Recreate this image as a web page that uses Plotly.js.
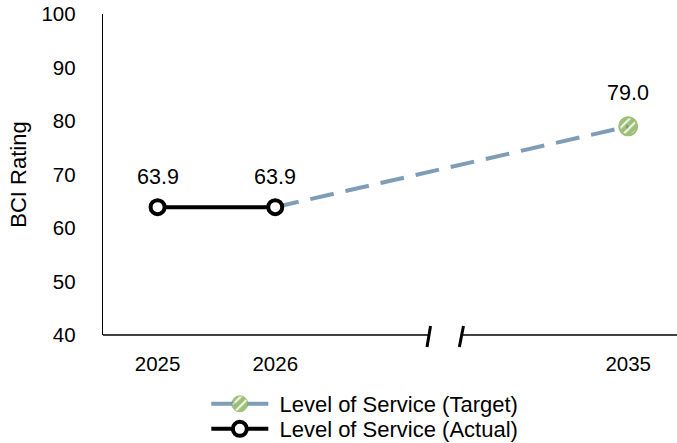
<!DOCTYPE html>
<html>
<head>
<meta charset="utf-8">
<script src="https://cdn.plot.ly/plotly-3.0.1.min.js"></script>
<style>
  html, body { margin: 0; padding: 0; background: #fff; }
  #chart { width: 677px; height: 443px; }
</style>
</head>
<body>
<div id="chart"></div>
<script>
// Category slots along the x axis (two empty slots stand for the axis break)
const slots = ['2025', '2026', 'gap-a', 'gap-b', '2035'];
const slotLabels = ['2025', '2026', '', '', '2035'];

// Level of Service (Actual)
const actualYears = ['2025', '2026'];
const actualBCI = [63.9, 63.9];

// Level of Service (Target)
const targetYears = ['2026', '2035'];
const targetBCI = [63.9, 79.0];

const FONT = 'Liberation Sans, Arial, sans-serif';
const xRange = [-0.464, 4.415];
const breakLeft = 2.305, breakRight = 2.585;
const NBSP = '\u00a0';

const targetTrace = {
  name: NBSP + 'Level of Service (Target)',
  legend: 'legend',
  x: targetYears,
  y: targetBCI,
  type: 'scatter',
  mode: 'lines+markers',
  line: { color: '#7f9db6', width: 4, dash: '24px,12px' },
  marker: {
    symbol: 'circle',
    size: [14, 18],
    color: '#74a542',
    line: { color: '#74a542', width: [0, 2] }
  },
  hoverinfo: 'skip'
};

const actualTrace = {
  name: NBSP + 'Level of Service (Actual)',
  legend: 'legend2',
  x: actualYears,
  y: actualBCI,
  type: 'scatter',
  mode: 'lines+markers',
  line: { color: '#000', width: 4 },
  marker: { symbol: 'circle', size: 14, color: '#fff', line: { color: '#000', width: 4 } },
  hoverinfo: 'skip'
};

// value labels above the markers (positioned by category index)
const labelFont = { family: FONT, size: 21.5, color: '#000' };
const valueLabel = (yr, v, shift) => ({
  x: slots.indexOf(yr), y: v, xref: 'x', yref: 'y',
  text: v.toFixed(1), showarrow: false, yshift: shift, font: labelFont
});
const annotations = actualYears.map((yr, i) => valueLabel(yr, actualBCI[i], 30))
  .concat([valueLabel(targetYears[targetYears.length - 1], targetBCI[targetBCI.length - 1], 33)]);

const axisLine = { color: '#000', width: 1.3 };
const slashLine = { color: '#000', width: 3 };

const legendBase = {
  orientation: 'v',
  x: 0.18, xanchor: 'left',
  yanchor: 'middle',
  itemwidth: 57,
  font: { family: FONT, size: 22, color: '#000' },
  bgcolor: 'rgba(0,0,0,0)'
};

const layout = {
  width: 677,
  height: 443,
  margin: { l: 103, r: 0, t: 14, b: 108, autoexpand: false },
  paper_bgcolor: '#fff',
  plot_bgcolor: '#fff',
  font: { family: FONT, size: 20.5, color: '#000' },
  showlegend: true,
  legend: Object.assign({}, legendBase, { y: -0.215 }),
  legend2: Object.assign({}, legendBase, { y: -0.293 }),
  annotations: annotations,
  xaxis: {
    type: 'category',
    categoryorder: 'array',
    categoryarray: slots,
    tickmode: 'array',
    tickvals: [0, 1, 2, 3, 4],
    ticktext: slotLabels,
    range: xRange,
    showline: false,
    showgrid: false,
    zeroline: false,
    ticks: '',
    ticklabelstandoff: 14,
    tickfont: { family: FONT, size: 20.5, color: '#000' },
    fixedrange: true
  },
  yaxis: {
    range: [40, 100],
    tickmode: 'linear',
    tick0: 40,
    dtick: 10,
    showline: true,
    linecolor: '#000',
    linewidth: 1.3,
    showgrid: false,
    zeroline: false,
    ticks: '',
    ticklabelstandoff: 22,
    tickfont: { family: FONT, size: 20.5, color: '#000' },
    title: { text: 'BCI Rating', font: { family: FONT, size: 22, color: '#000' }, standoff: 8 },
    fixedrange: true
  },
  shapes: [
    // broken x axis line
    { type: 'line', layer: 'above', xref: 'x', yref: 'paper', x0: xRange[0], x1: breakLeft, y0: 0, y1: 0, line: axisLine },
    { type: 'line', layer: 'above', xref: 'x', yref: 'paper', x0: breakRight, x1: xRange[1], y0: 0, y1: 0, line: axisLine },
    // break marks
    { type: 'line', layer: 'above', xref: 'x', yref: 'paper', x0: 2.29, x1: 2.32, y0: -0.0374, y1: 0.028, line: slashLine },
    { type: 'line', layer: 'above', xref: 'x', yref: 'paper', x0: 2.565, x1: 2.60, y0: -0.0374, y1: 0.028, line: slashLine }
  ]
};

Plotly.newPlot('chart', [targetTrace, actualTrace], layout, { staticPlot: true }).then(gd => {
  // striped fill for the target marker
  const NS = 'http://www.w3.org/2000/svg';
  const svg = gd.querySelector('svg.main-svg');
  let defs = svg.querySelector('defs');
  if (!defs) { defs = document.createElementNS(NS, 'defs'); svg.insertBefore(defs, svg.firstChild); }
  const P = 6.5;
  const pat = document.createElementNS(NS, 'pattern');
  pat.setAttribute('id', 'targetStripes');
  pat.setAttribute('patternUnits', 'userSpaceOnUse');
  pat.setAttribute('width', P);
  pat.setAttribute('height', P);
  pat.setAttribute('patternTransform', 'rotate(45)');
  const bg = document.createElementNS(NS, 'rect');
  bg.setAttribute('width', P); bg.setAttribute('height', P); bg.setAttribute('fill', '#74a542');
  const stripe = document.createElementNS(NS, 'rect');
  stripe.setAttribute('x', 1); stripe.setAttribute('width', '2.1'); stripe.setAttribute('height', P); stripe.setAttribute('fill', '#eef5e6');
  pat.appendChild(bg); pat.appendChild(stripe);
  defs.appendChild(pat);

  const traces = gd.querySelectorAll('.scatterlayer .trace');
  if (traces.length) {
    const pts = traces[0].querySelectorAll('.points path');
    if (pts.length) pts[pts.length - 1].style.fill = 'url(#targetStripes)';
  }
  gd.querySelectorAll('.legend .traces, .legend2 .traces').forEach(item => {
    if ((item.textContent || '').indexOf('Target') >= 0) {
      item.querySelectorAll('.legendpoints path.scatterpts').forEach(p => { p.style.fill = 'url(#targetStripes)'; });
    }
  });
});
</script>
</body>
</html>
